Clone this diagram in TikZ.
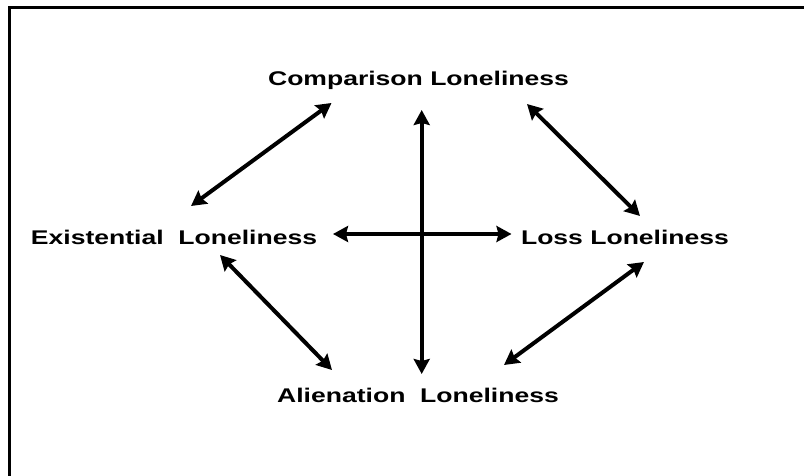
\documentclass[tikz,border=0pt]{standalone}
\usepackage{fontspec}
\setmainfont{Liberation Sans}[FakeStretch=1.34]
\usetikzlibrary{arrows.meta}
\tikzset{
  lbl/.style={anchor=base, inner sep=0pt, font=\fontsize{19.8}{22}\selectfont\bfseries},
  link/.style={line width=4pt, {Stealth[length=15pt,width=16pt,inset=2pt]}-{Stealth[length=15pt,width=16pt,inset=2pt]}}
}
\begin{document}
\begin{tikzpicture}[x=1pt,y=-1pt]
\useasboundingbox (0,0) rectangle (804,476);
\clip (0,0) rectangle (804,476);
\draw[line width=2.8pt] (9.3,7.3) rectangle (830,500);
% labels
\node[lbl] (comp) at (418.5,86) {Comparison Loneliness};
\node[lbl] (exis) at (174,244) {Existential\ \ Loneliness};
\node[lbl] (loss) at (625,244) {Loss Loneliness};
\node[lbl] (alien) at (418,402) {Alienation\ \ Loneliness};
% arrow end points
\coordinate (ce1) at (331.5,103);
\coordinate (ce2) at (191,206);
\coordinate (cl1) at (527,104);
\coordinate (cl2) at (640,216);
\coordinate (v1) at (421.7,110);
\coordinate (v2) at (421.7,374);
\coordinate (h1) at (333,234);
\coordinate (h2) at (511.5,234);
\coordinate (ea1) at (220,255);
\coordinate (ea2) at (332,370);
\coordinate (la1) at (644,262);
\coordinate (la2) at (504,365);
\draw[link] (ce1) -- (ce2);
\draw[link] (cl1) -- (cl2);
\draw[link] (v1) -- (v2);
\draw[link] (h1) -- (h2);
\draw[link] (ea1) -- (ea2);
\draw[link] (la1) -- (la2);
\end{tikzpicture}
\end{document}
